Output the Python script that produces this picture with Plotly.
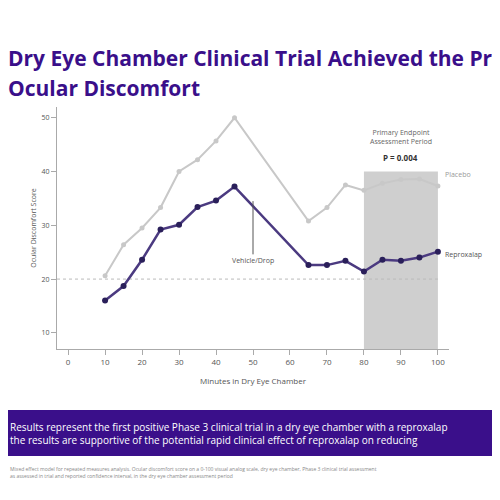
import plotly.graph_objects as go

minutes = [10, 15, 20, 25, 30, 35, 40, 45, 65, 70, 75, 80, 85, 90, 95, 100]
placebo = [20.6, 26.4, 29.5, 33.3, 40.0, 42.2, 45.7, 50.0, 30.8, 33.3, 37.5, 36.5, 37.8, 38.5, 38.6, 37.3]
reproxalap = [16.0, 18.7, 23.6, 29.2, 30.1, 33.4, 34.6, 37.2, 22.6, 22.6, 23.4, 21.4, 23.6, 23.4, 24.0, 25.1]
x_ticks = [0, 10, 20, 30, 40, 50, 60, 70, 80, 90, 100]
y_ticks = [10, 20, 30, 40, 50]

purple = "#3a0f8a"
fig = go.Figure()
fig.add_shape(type="rect", x0=80, x1=100, y0=7, y1=40, xref="x", yref="y",
              fillcolor="#cfcfcf", line_width=0, layer="below")
fig.add_shape(type="line", x0=-3, x1=100, y0=20, y1=20, xref="x", yref="y",
              line=dict(color="#bbbbbb", width=1, dash="dot"), layer="below")
fig.add_trace(go.Scatter(x=minutes, y=placebo, mode="lines+markers", name="Placebo",
                         line=dict(color="#c8c8c8", width=2), marker=dict(size=5, color="#c8c8c8")))
fig.add_trace(go.Scatter(x=minutes, y=reproxalap, mode="lines+markers", name="Reproxalap",
                         line=dict(color="#4b3a80", width=2.5), marker=dict(size=6, color="#2a1f5a")))

fig.update_layout(
    width=500, height=500, margin=dict(l=0, r=0, t=0, b=0),
    paper_bgcolor="white", plot_bgcolor="white", showlegend=False,
    font=dict(family="Open Sans", color="#555"),
    xaxis=dict(domain=[0.098, 0.882], range=[-3, 103], tickvals=x_ticks, showgrid=False,
               zeroline=False, showline=True, linecolor="#aaa", ticks="outside",
               tickcolor="#aaa", tickfont=dict(size=8),
               title=dict(text="Minutes in Dry Eye Chamber", font=dict(size=8), standoff=12)),
    yaxis=dict(domain=[0.318, 0.802], range=[7, 52], tickvals=y_ticks, showgrid=False,
               zeroline=False, showline=True, linecolor="#aaa", ticks="outside",
               tickcolor="#aaa", tickfont=dict(size=7),
               title=dict(text="Ocular Discomfort Score", font=dict(size=7), standoff=4)),
)
ann = [
    dict(x=90, y=46.5, xref="x", yref="y", text="Primary Endpoint<br>Assessment Period",
         showarrow=False, font=dict(size=7, color="#666")),
    dict(x=90, y=42.7, xref="x", yref="y", text="<b>P = 0.004</b>",
         showarrow=False, font=dict(size=8, color="#333")),
    dict(x=101.5, y=39.5, xref="x", yref="y", text="Placebo", xanchor="left",
         showarrow=False, font=dict(size=7, color="#999")),
    dict(x=101.5, y=24.5, xref="x", yref="y", text="Reproxalap", xanchor="left",
         showarrow=False, font=dict(size=7, color="#555")),
    dict(x=50, y=34.5, ax=50, ay=24.6, xref="x", yref="y", axref="x", ayref="y",
         text="Vehicle/Drop", showarrow=True, arrowhead=0, arrowcolor="#555",
         font=dict(size=7, color="#555"), yanchor="top"),
    dict(x=-0.005, y=0.9, xref="paper", yref="paper", xanchor="left", yanchor="middle",
         text="<b>Dry Eye Chamber Clinical Trial Achieved the Primary</b>", showarrow=False,
         font=dict(size=21, color=purple)),
    dict(x=-0.005, y=0.84, xref="paper", yref="paper", xanchor="left", yanchor="middle",
         text="<b>Ocular Discomfort</b>", showarrow=False, font=dict(size=21, color=purple)),
    dict(x=0.0, y=0.15, xref="paper", yref="paper", xanchor="left", yanchor="middle",
         text="Results represent the first positive Phase 3 clinical trial in a dry eye chamber with a reproxalap<br>the results are supportive of the potential rapid clinical effect of reproxalap on reducing",
         showarrow=False, align="left", font=dict(size=10, color="white")),
    dict(x=0.0, y=0.07, xref="paper", yref="paper", xanchor="left", yanchor="middle",
         text="Mixed effect model for repeated measures analysis. Ocular discomfort score on a 0-100 visual analog scale, dry eye chamber, Phase 3 clinical trial assessment<br>as assessed in trial and reported confidence interval, in the dry eye chamber assessment period",
         showarrow=False, align="left", font=dict(size=5, color="#888")),
]
fig.update_layout(annotations=ann)
fig.add_shape(type="rect", xref="paper", yref="paper", x0=0, x1=1, y0=0.104, y1=0.196,
              fillcolor=purple, line_width=0)
fig.add_shape(type="line", xref="paper", yref="paper", x0=0, x1=1, y0=0.003, y1=0.003,
              line=dict(color="#444", width=3))
fig.write_html("out.html")
